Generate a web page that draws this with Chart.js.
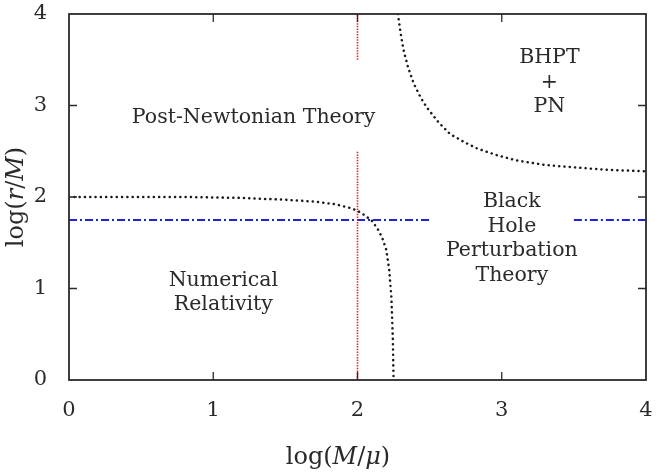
<!DOCTYPE html>
<html>
<head>
<meta charset="utf-8">
<script src="https://cdn.jsdelivr.net/npm/chart.js@4"></script>
<style>
  html, body { margin: 0; padding: 0; background: #fff; }
  canvas { display: block; }
</style>
</head>
<body>
<canvas id="regimeChart" width="660" height="473"></canvas>
<script>
// numerical relativity boundary (lower left dotted curve)
const nrX = [0, 0.4, 0.8, 1.2, 1.5, 1.7, 1.85, 1.95, 2.0, 2.05, 2.1, 2.14, 2.17, 2.2, 2.22, 2.235, 2.245, 2.25];
const nrY = [2.0, 2.0, 2.0, 1.99, 1.97, 1.95, 1.92, 1.88, 1.85, 1.8, 1.74, 1.65, 1.56, 1.42, 1.2, 0.9, 0.45, 0.0];

// BHPT + PN boundary (upper right dotted curve)
const pnX = [2.28, 2.3, 2.32, 2.35, 2.39, 2.44, 2.48, 2.56, 2.64, 2.74, 2.83, 2.96, 3.1, 3.3, 3.45, 3.7, 4.0];
const pnY = [4.0, 3.78, 3.6, 3.42, 3.24, 3.08, 2.98, 2.82, 2.69, 2.6, 2.53, 2.46, 2.4, 2.35, 2.33, 2.3, 2.28];

// red vertical at log(M/mu) = 2, broken around the PN label
const massRatioLine = 2;
const massRatioSegments = [[0, 2.5], [3.5, 4]];

// blue horizontal at log(r/M) = 1.75, broken around the BHPT label
const separationLine = 1.75;
const separationSegments = [[0, 2.5], [3.5, 4]];

const tickValues = [0, 1, 2, 3, 4];

const regionLabels = [
  { lines: ["Post-Newtonian Theory"], x: 1.28, y: 2.87 },
  { lines: ["BHPT", "+", "PN"], x: 3.33, y: 3.52 },
  { lines: ["Black", "Hole", "Perturbation", "Theory"], x: 3.07, y: 1.945 },
  { lines: ["Numerical", "Relativity"], x: 1.07, y: 1.09 },
];

const SERIF = '"DejaVu Serif", "Liberation Serif", serif';
const INK = '#2a2a2a';

function toPoints(xs, ys) {
  return xs.map((x, i) => ({ x: x, y: ys[i] }));
}

function lineSet(points, color, width, dash, cap) {
  return {
    data: points,
    showLine: true,
    pointRadius: 0,
    borderColor: color,
    borderWidth: width,
    borderDash: dash,
    borderCapStyle: cap || 'butt',
    tension: 0,
    fill: false,
  };
}

const datasets = [];
massRatioSegments.forEach(seg => {
  datasets.push(lineSet([{ x: massRatioLine, y: seg[0] }, { x: massRatioLine, y: seg[1] }], '#ff1f1f', 1.6, [1.5, 1.2]));
});
separationSegments.forEach(seg => {
  datasets.push(lineSet([{ x: seg[0], y: separationLine }, { x: seg[1], y: separationLine }], '#2323d8', 2, [8, 3, 2, 3]));
});
datasets.push(lineSet(toPoints(nrX, nrY), '#1a1a1a', 2.5, [0.1, 5.2], 'round'));
datasets.push(lineSet(toPoints(pnX, pnY), '#1a1a1a', 2.5, [0.1, 5.2], 'round'));

function drawMath(ctx, parts, cx, cy, size) {
  const fonts = parts.map(p => (p[1] ? 'italic ' : '') + size + 'px ' + SERIF);
  let total = 0;
  const widths = parts.map((p, i) => {
    ctx.font = fonts[i];
    const w = ctx.measureText(p[0]).width;
    total += w;
    return w;
  });
  let x = cx - total / 2;
  ctx.textBaseline = 'middle';
  ctx.textAlign = 'left';
  parts.forEach((p, i) => {
    ctx.font = fonts[i];
    ctx.fillText(p[0], x, cy);
    x += widths[i];
  });
}

const framePlugin = {
  id: 'frame',
  afterDraw(chart) {
    const { ctx, chartArea: a, scales } = chart;
    ctx.save();
    ctx.strokeStyle = INK;
    ctx.lineWidth = 1.8;
    ctx.strokeRect(a.left, a.top, a.right - a.left, a.bottom - a.top);
    ctx.lineWidth = 1.3;
    const len = 8;
    ctx.beginPath();
    tickValues.slice(1, -1).forEach(v => {
      const px = scales.x.getPixelForValue(v);
      ctx.moveTo(px, a.bottom); ctx.lineTo(px, a.bottom - len);
      ctx.moveTo(px, a.top); ctx.lineTo(px, a.top + len);
      const py = scales.y.getPixelForValue(v);
      ctx.moveTo(a.left, py); ctx.lineTo(a.left + len, py);
      ctx.moveTo(a.right, py); ctx.lineTo(a.right - len, py);
    });
    ctx.stroke();

    // region labels
    ctx.fillStyle = INK;
    ctx.font = '20.5px ' + SERIF;
    ctx.textAlign = 'center';
    ctx.textBaseline = 'middle';
    regionLabels.forEach(lab => {
      const px = scales.x.getPixelForValue(lab.x);
      const py = scales.y.getPixelForValue(lab.y);
      lab.lines.forEach((t, i) => ctx.fillText(t, px, py + i * 24.5));
    });

    // axis titles
    drawMath(ctx, [['log(', 0], ['M', 1], ['/', 0], ['\u03bc', 1], [')', 0]], 338, 458, 24);
    ctx.save();
    ctx.translate(17, (a.top + a.bottom) / 2);
    ctx.rotate(-Math.PI / 2);
    drawMath(ctx, [['log(', 0], ['r', 1], ['/', 0], ['M', 1], [')', 0]], 0, 0, 24);
    ctx.restore();
    ctx.restore();
  }
};

window.addEventListener('DOMContentLoaded', () => {
  const ctx = document.getElementById('regimeChart').getContext('2d');
  new Chart(ctx, {
    type: 'scatter',
    data: { datasets: datasets },
    options: {
      responsive: false,
      animation: false,
      layout: { padding: { top: 14, right: 14, left: 0, bottom: 0 } },
      plugins: { legend: { display: false }, tooltip: { enabled: false } },
      scales: {
        x: {
          type: 'linear', min: 0, max: 4,
          afterBuildTicks: s => { s.ticks = tickValues.map(v => ({ value: v })); },
          afterFit: s => { s.height = 93; s.paddingLeft = 0; s.paddingRight = 0; },
          grid: { display: false, drawTicks: false },
          border: { display: false },
          ticks: { color: INK, padding: 18, font: { family: SERIF, size: 21 } },
        },
        y: {
          type: 'linear', min: 0, max: 4,
          afterBuildTicks: s => { s.ticks = tickValues.map(v => ({ value: v })); },
          afterFit: s => { s.width = 69; s.paddingTop = 0; s.paddingBottom = 0; },
          grid: { display: false, drawTicks: false },
          border: { display: false },
          ticks: { color: INK, padding: 22, font: { family: SERIF, size: 21 } },
        },
      },
    },
    plugins: [framePlugin],
  });
});
</script>
</body>
</html>
